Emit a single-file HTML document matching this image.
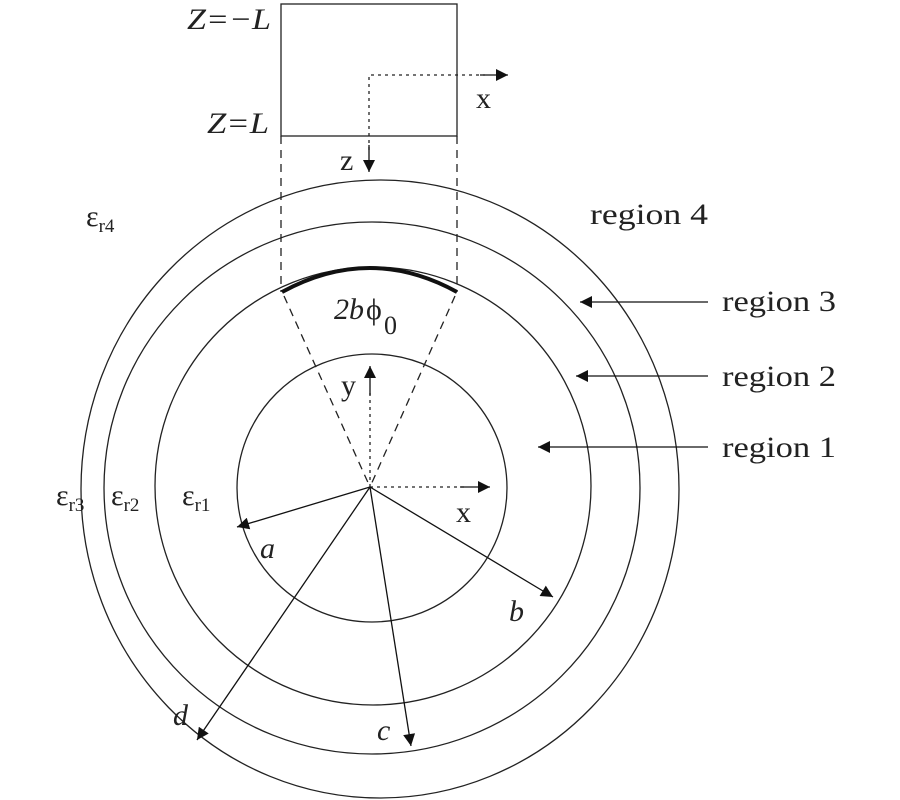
<!DOCTYPE html>
<html><head><style>body{margin:0;background:#fff}svg{display:block}text{font-family:"Liberation Serif",serif;fill:#222}</style></head><body>
<svg width="900" height="800" viewBox="0 0 900 800" xmlns="http://www.w3.org/2000/svg">
<defs><marker id="ah" viewBox="0 0 10 10" refX="10" refY="5" markerWidth="24" markerHeight="12" markerUnits="userSpaceOnUse" orient="auto"><path d="M0,0 L10,5 L0,10 z" fill="#111"/></marker></defs>
<g fill="none" stroke="#222" stroke-width="1.3">
<ellipse cx="380" cy="489" rx="299" ry="309"/>
<ellipse cx="372" cy="488" rx="268" ry="266"/>
<ellipse cx="373" cy="486" rx="218" ry="219"/>
<ellipse cx="372" cy="488" rx="135" ry="134"/>
<rect x="281" y="4" width="176" height="132"/>
</g>
<g fill="none" stroke="#222" stroke-width="1.3" stroke-dasharray="8,6">
<line x1="281" y1="136" x2="281" y2="292"/><line x1="457" y1="136" x2="457" y2="292"/>
<line x1="284" y1="296" x2="370" y2="487"/><line x1="455" y1="296" x2="370" y2="487"/>
</g>
<path d="M282,292 Q370,244 457,292" fill="none" stroke="#111" stroke-width="4"/>
<g fill="none" stroke="#222" stroke-width="1.3" stroke-dasharray="3,4">
<polyline points="369,150 369,75 485,75"/>
<line x1="370" y1="487" x2="370" y2="390"/><line x1="370" y1="487" x2="465" y2="487"/>
</g>
<g stroke="#111" stroke-width="1.3" marker-end="url(#ah)">
<line x1="369" y1="145" x2="369" y2="172"/>
<line x1="480" y1="75" x2="508" y2="75"/>
<line x1="370" y1="395" x2="370" y2="366"/>
<line x1="460" y1="487" x2="490" y2="487"/>
<line x1="370" y1="487" x2="237" y2="527"/>
<line x1="370" y1="487" x2="553" y2="597"/>
<line x1="370" y1="487" x2="411" y2="746"/>
<line x1="370" y1="487" x2="197" y2="740"/>
<line x1="708" y1="302" x2="580" y2="302"/>
<line x1="708" y1="376" x2="576" y2="376"/>
<line x1="708" y1="447" x2="538" y2="447"/>
</g>
<g font-size="30">
<text x="187" y="29" font-style="italic" textLength="84" lengthAdjust="spacingAndGlyphs">Z=−L</text>
<text x="207" y="133" font-style="italic" textLength="62" lengthAdjust="spacingAndGlyphs">Z=L</text>
<text x="476" y="108">x</text>
<text x="340" y="170">z</text>
<text x="590" y="224" textLength="118" lengthAdjust="spacingAndGlyphs">region 4</text>
<text x="722" y="311" textLength="114" lengthAdjust="spacingAndGlyphs">region 3</text>
<text x="722" y="386" textLength="114" lengthAdjust="spacingAndGlyphs">region 2</text>
<text x="722" y="457" textLength="114" lengthAdjust="spacingAndGlyphs">region 1</text>
<text x="334" y="319" font-style="italic">2b</text><text x="366" y="319">ϕ</text><text x="384" y="334" font-size="26">0</text>
<text x="341" y="395">y</text>
<text x="456" y="522">x</text>
<text x="260" y="558" font-style="italic">a</text>
<text x="509" y="621" font-style="italic">b</text>
<text x="377" y="740" font-style="italic">c</text>
<text x="173" y="725" font-style="italic">d</text>
<text x="86" y="226">ε<tspan font-size="19" dy="6">r4</tspan></text>
<text x="56" y="505">ε<tspan font-size="19" dy="6">r3</tspan></text>
<text x="111" y="505">ε<tspan font-size="19" dy="6">r2</tspan></text>
<text x="182" y="505">ε<tspan font-size="19" dy="6">r1</tspan></text>
</g>
</svg>
</body></html>
